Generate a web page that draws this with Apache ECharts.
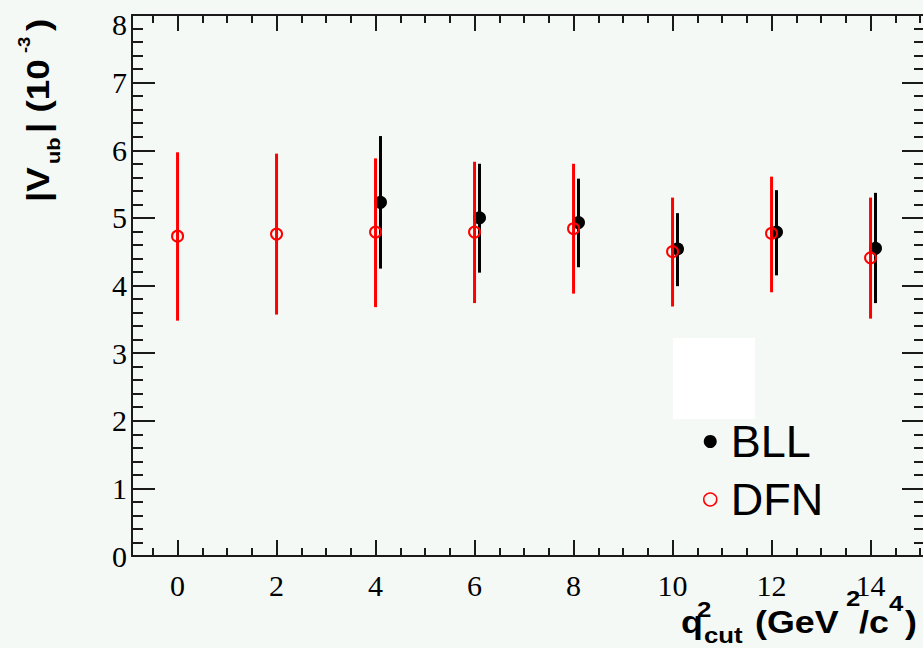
<!DOCTYPE html>
<html><head><meta charset="utf-8">
<script src="https://cdn.jsdelivr.net/npm/echarts@6/dist/echarts.min.js"></script>
<style>html,body{margin:0;padding:0;background:#f5f9f6}#c{width:923px;height:648px}</style>
</head><body><div id="c"></div>
<script>
// ---- data ----
const dfnX    = [0, 2, 4, 6, 8, 10, 12, 14];
const dfnVal  = [4.73, 4.76, 4.79, 4.79, 4.84, 4.50, 4.77, 4.41];
const dfnLow  = [3.48, 3.57, 3.68, 3.74, 3.88, 3.69, 3.90, 3.51];
const dfnHigh = [5.97, 5.95, 5.88, 5.83, 5.80, 5.30, 5.61, 5.30];
const bllX    = [4.1, 6.1, 8.1, 10.1, 12.1, 14.1];
const bllVal  = [5.23, 5.00, 4.93, 4.54, 4.79, 4.55];
const bllLow  = [4.25, 4.19, 4.27, 3.99, 4.15, 3.74];
const bllHigh = [6.21, 5.80, 5.58, 5.07, 5.41, 5.37];
const xMajorTicks = [0, 2, 4, 6, 8, 10, 12, 14];
const xMinorTicks = [-0.5, 0.5, 1, 1.5, 2.5, 3, 3.5, 4.5, 5, 5.5, 6.5, 7, 7.5, 8.5, 9, 9.5, 10.5, 11, 11.5, 12.5, 13, 13.5, 14.5, 15];
const yTickLabels = ['0','1','2','3','4','5','6','7','8'];
const seriesNames = ['BLL', 'DFN'];
// axis title pieces: text, font size, position along the title, offset across it
const xTitlePieces = [['q', 32, 681, 622], ['2', 23, 697, 609], ['cut', 23, 704, 635], ['(GeV', 32, 755, 622],
                      ['2', 23, 846, 598], ['/c', 32, 859, 622], ['4', 23, 889, 603], [')', 32, 905, 622]];
const yTitlePieces = [['|V', 32, 202, 38], ['ub', 19, 164, 53], ['| (10', 32, 133, 38], ['-3', 16, 53, 24], [')', 32, 31, 38]];

const X_MIN = -0.92, X_MAX = 15.1;
const lineCol = '#1a1a1a';
const RED = '#ff0000';

function errBar(color) {
  return function (params, api) {
    const x = api.value(0);
    const lo = api.coord([x, api.value(1)]);
    const hi = api.coord([x, api.value(2)]);
    return { type: 'line', shape: { x1: lo[0], y1: lo[1], x2: hi[0], y2: hi[1] },
             style: { stroke: color, lineWidth: 3 } };
  };
}

function xAxisDef(pos, ticks, len, showLine, showLabel) {
  return {
    type: 'value', position: pos, min: X_MIN, max: X_MAX,
    axisLine: { show: showLine, onZero: false, lineStyle: { color: lineCol, width: 2 } },
    axisTick: { show: true, inside: true, length: len, customValues: ticks, lineStyle: { color: lineCol, width: 2 } },
    axisLabel: { show: showLabel, customValues: ticks, fontFamily: 'Liberation Serif', fontSize: 30, color: '#000', margin: 14 },
    splitLine: { show: false }
  };
}
function yAxisDef(pos, showLabel) {
  return {
    type: 'value', position: pos, min: 0, max: 8, interval: 1,
    axisLine: { show: true, onZero: false, lineStyle: { color: lineCol, width: 2 } },
    axisTick: { show: true, inside: true, length: 23, lineStyle: { color: lineCol, width: 2 } },
    minorTick: { show: true, splitNumber: 5, length: 11, lineStyle: { color: lineCol, width: 2 } },
    axisLabel: { show: showLabel, fontFamily: 'Liberation Serif', fontSize: 30, color: '#000', margin: 5,
      formatter: function (v) { const s = yTickLabels[Math.round(v)]; return v === 8 ? '{t|' + s + '}' : s; },
      rich: { t: { fontFamily: 'Liberation Serif', fontSize: 30, color: '#000', padding: [18, 0, 0, 0] } } },
    splitLine: { show: false }
  };
}

function titleText(p, vertical) {
  const style = { text: p[0], fontFamily: 'Liberation Sans', fontWeight: 'bold', fontSize: p[1],
                  fill: '#000', align: 'left', verticalAlign: 'middle' };
  if (vertical) return { type: 'text', x: p[3], y: p[2], rotation: Math.PI / 2, scaleX: 1.15, z: 10, style: style };
  return { type: 'text', x: p[2], y: p[3], scaleX: 1.12, z: 10, style: style };
}

const chart = echarts.init(document.getElementById('c'), null, { renderer: 'svg' });
chart.setOption({
  backgroundColor: '#f5f9f6',
  animation: false,
  grid: { left: 132, right: -2, top: 15, bottom: 92, outerBoundsMode: 'none', containLabel: false },
  xAxis: [
    xAxisDef('bottom', xMajorTicks, 16, true, true),
    xAxisDef('bottom', xMinorTicks, 8, false, false),
    xAxisDef('top', xMajorTicks, 16, true, false),
    xAxisDef('top', xMinorTicks, 8, false, false)
  ],
  yAxis: [ yAxisDef('left', true), yAxisDef('right', false) ],
  legend: {
    orient: 'vertical', left: 703, top: 419, padding: 0, itemWidth: 31, itemHeight: 13, itemGap: 13,
    selectedMode: false,
    textStyle: { fontFamily: 'Liberation Sans', fontSize: 45, lineHeight: 45, color: '#000' },
    data: [
      { name: seriesNames[0], icon: 'circle' },
      { name: seriesNames[1], icon: 'circle', itemStyle: { color: 'rgba(0,0,0,0)', borderColor: RED, borderWidth: 1.5 } }
    ]
  },
  graphic: [
    { type: 'rect', shape: { x: 673, y: 338, width: 82, height: 81 }, style: { fill: '#ffffff' }, z: 1 }
  ].concat(xTitlePieces.map(p => titleText(p, false)), yTitlePieces.map(p => titleText(p, true))),
  series: [
    { type: 'custom', name: 'BLL err', renderItem: errBar('#000000'),
      data: bllX.map((x, i) => [x, bllLow[i], bllHigh[i]]), encode: { x: 0, y: [1, 2] }, z: 3, silent: true },
    { type: 'scatter', name: seriesNames[0], symbol: 'circle', symbolSize: 13,
      itemStyle: { color: '#000000', opacity: 1 }, data: bllX.map((x, i) => [x, bllVal[i]]), z: 3 },
    { type: 'custom', name: 'DFN err', renderItem: errBar(RED),
      data: dfnX.map((x, i) => [x, dfnLow[i], dfnHigh[i]]), encode: { x: 0, y: [1, 2] }, z: 4, silent: true },
    { type: 'scatter', name: seriesNames[1], symbol: 'circle', symbolSize: 11,
      itemStyle: { color: 'rgba(0,0,0,0)', borderColor: RED, borderWidth: 2, opacity: 1 },
      data: dfnX.map((x, i) => [x, dfnVal[i]]), z: 4 }
  ]
});
</script>
</body></html>
